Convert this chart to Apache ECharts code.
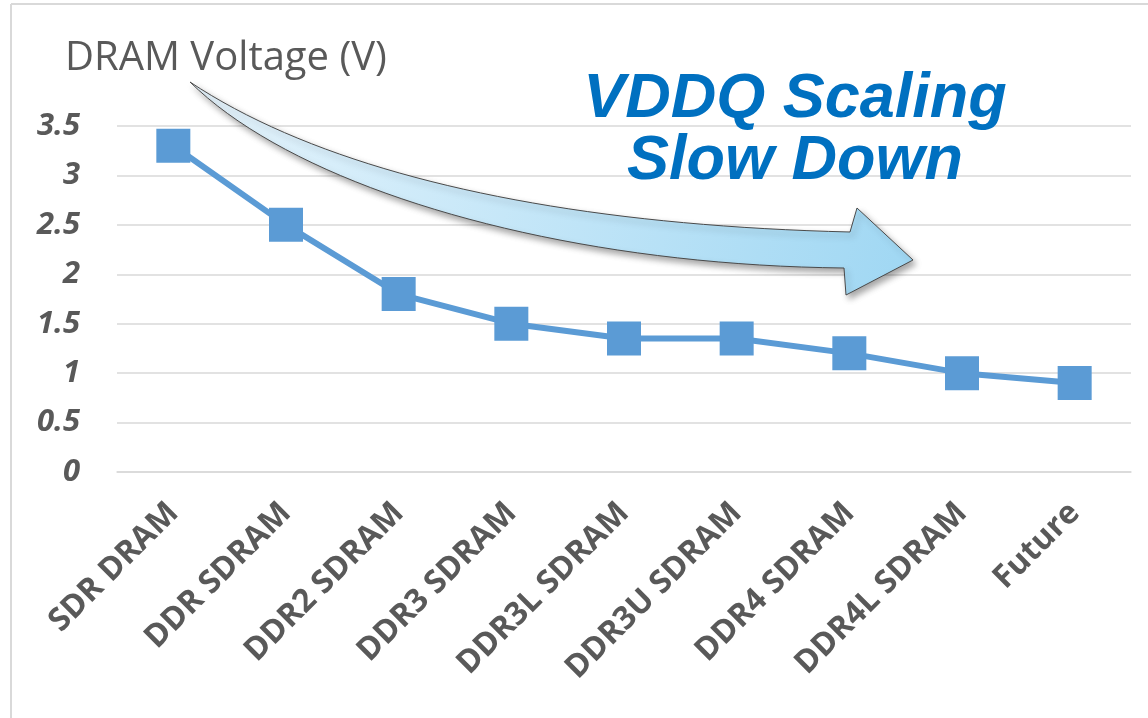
<!DOCTYPE html>
<html>
<head>
<meta charset="utf-8">
<script src="https://cdn.jsdelivr.net/npm/echarts@6/dist/echarts.min.js"></script>
<style>
  html, body { margin: 0; padding: 0; background: #fff; }
  #main { width: 1148px; height: 718px; }
</style>
</head>
<body>
<div id="main"></div>
<script>
var myChart = echarts.init(document.getElementById('main'));

// data
var categories = ['SDR DRAM', 'DDR SDRAM', 'DDR2 SDRAM', 'DDR3 SDRAM', 'DDR3L SDRAM',
                  'DDR3U SDRAM', 'DDR4 SDRAM', 'DDR4L SDRAM', 'Future'];
var voltage = [3.3, 2.5, 1.8, 1.5, 1.35, 1.35, 1.2, 1.0, 0.9];
var yTicks = [0, 0.5, 1, 1.5, 2, 2.5, 3, 3.5];

var labelGray = '#595959';
var gridGray = '#D9D9D9';

// the big curved arrow, built from two bezier edges and the head
function bez(p0, p1, p2, p3, n) {
    var pts = [];
    for (var i = 0; i <= n; i++) {
        var t = i / n, u = 1 - t;
        pts.push([
            u * u * u * p0[0] + 3 * u * u * t * p1[0] + 3 * u * t * t * p2[0] + t * t * t * p3[0],
            u * u * u * p0[1] + 3 * u * u * t * p1[1] + 3 * u * t * t * p2[1] + t * t * t * p3[1]
        ]);
    }
    return pts;
}
var arrowPts = bez([190, 82], [330, 175], [560, 225], [850, 232], 40)
    .concat([[857, 208], [913, 260], [846, 295]])
    .concat(bez([844, 268], [560, 265], [300, 190], [190, 82], 40));

var option = {
    backgroundColor: '#fff',
    animation: false,
    title: {
        text: 'DRAM Voltage (V)',
        left: 60,
        top: 34,
        textStyle: {
            fontFamily: 'Open Sans',
            fontWeight: 'normal',
            fontSize: 40,
            color: labelGray
        }
    },
    grid: {
        left: 117,
        right: 17,
        top: 126,
        bottom: 246
    },
    xAxis: {
        type: 'category',
        data: categories,
        boundaryGap: true,
        axisLine: { show: true, lineStyle: { color: gridGray, width: 1.5 } },
        axisTick: { show: false },
        axisLabel: {
            rotate: 45,
            margin: 36,
            interval: 0,
            fontFamily: 'Open Sans',
            fontWeight: 'bold',
            fontSize: 32,
            color: labelGray
        }
    },
    yAxis: {
        type: 'value',
        min: yTicks[0],
        max: yTicks[yTicks.length - 1],
        interval: 0.5,
        axisLine: { show: false },
        axisTick: { show: false },
        splitLine: { lineStyle: { color: gridGray, width: 1.5 } },
        axisLabel: {
            margin: 37,
            fontFamily: 'Open Sans',
            fontWeight: 'bold',
            fontStyle: 'italic',
            fontSize: 31,
            color: labelGray
        }
    },
    series: [
        {
            name: 'DRAM Voltage',
            type: 'line',
            data: voltage,
            symbol: 'rect',
            symbolSize: 34,
            lineStyle: { color: '#5B9BD5', width: 6 },
            itemStyle: { color: '#5B9BD5' },
            z: 3
        }
    ],
    graphic: [
        {
            type: 'line',
            shape: { x1: 11, y1: 4, x2: 1148, y2: 4 },
            style: { stroke: gridGray, lineWidth: 2 }
        },
        {
            type: 'line',
            shape: { x1: 11, y1: 4, x2: 11, y2: 718 },
            style: { stroke: gridGray, lineWidth: 2 }
        },
        {
            type: 'polygon',
            shape: { points: arrowPts },
            z: 10,
            style: {
                fill: new echarts.graphic.LinearGradient(0, 0, 1, 1, [
                    { offset: 0, color: '#E6F4FC' },
                    { offset: 1, color: '#9FD7F3' }
                ]),
                stroke: '#4a4a4a',
                lineWidth: 1,
                shadowBlur: 6,
                shadowOffsetX: 3,
                shadowOffsetY: 4,
                shadowColor: 'rgba(0,0,0,0.35)'
            }
        },
        {
            type: 'text',
            x: 795,
            y: 100,
            z: 11,
            style: {
                text: 'VDDQ Scaling',
                textAlign: 'center',
                textVerticalAlign: 'middle',
                font: 'italic bold 63px "Liberation Sans"',
                fill: '#0070C0'
            }
        },
        {
            type: 'text',
            x: 795,
            y: 162,
            z: 11,
            style: {
                text: 'Slow Down',
                textAlign: 'center',
                textVerticalAlign: 'middle',
                font: 'italic bold 63px "Liberation Sans"',
                fill: '#0070C0'
            }
        }
    ]
};

myChart.setOption(option);
</script>
</body>
</html>
